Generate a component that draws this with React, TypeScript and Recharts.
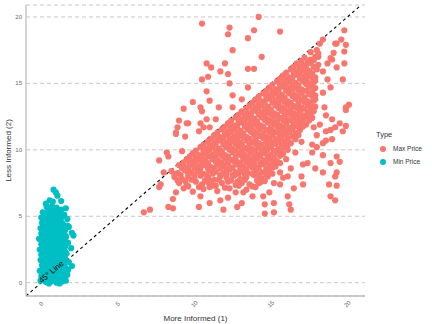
import { ScatterChart, Scatter, XAxis, YAxis, CartesianGrid, ReferenceLine, ReferenceDot } from "recharts";

const RED = "#F8766D";
const CYAN = "#00BFC4";
const FONT = "'Liberation Sans', Arial, sans-serif";

const xTicks = [0, 5, 10, 15, 20];
const yTicks = [0, 5, 10, 15, 20];
const seriesNames = ["Max Price", "Min Price"];

// Max Price: dense band under the 45° line
const maxCore: [number, number][] = [
  [9.3,7.1],[9.9,6.85],[10.6,7.05],[11.0,7.2],[11.5,6.9],[12.3,7.1],[12.7,6.8],[13.4,7.0],[14.0,7.2],
  [9.0,7.5],[9.5,7.35],[10.1,7.6],[10.5,7.4],[10.9,7.55],[11.4,7.3],[11.8,7.5],[12.2,7.6],[12.7,7.35],[13.1,7.5],[13.6,7.4],[14.3,7.55],
  [8.7,7.95],[9.2,7.8],[9.6,8.0],[10.0,7.85],[10.4,8.05],[10.9,7.9],[11.3,7.75],[11.7,8.0],[12.1,7.9],[12.6,8.05],[13.0,7.8],[13.4,7.95],[13.9,8.1],[14.4,7.85],[14.8,8.0],
  [8.5,8.4],[8.9,8.25],[9.4,8.45],[9.8,8.3],[10.2,8.4],[10.6,8.2],[11.0,8.45],[11.4,8.35],[11.9,8.25],[12.3,8.5],[12.7,8.3],[13.1,8.4],[13.5,8.25],[14.0,8.45],[14.4,8.3],[14.9,8.4],
  [9.0,8.85],[9.4,8.7],[9.8,8.9],[10.3,8.75],[10.7,8.85],[11.1,8.7],[11.5,8.95],[11.9,8.8],[12.3,8.7],[12.8,8.9],[13.2,8.75],[13.6,8.85],[14.0,8.7],[14.5,8.9],[14.9,8.8],[15.3,8.75],
  [9.5,9.3],[9.9,9.15],[10.3,9.35],[10.7,9.2],[11.2,9.3],[11.6,9.15],[12.0,9.35],[12.4,9.25],[12.8,9.1],[13.2,9.3],[13.7,9.2],[14.1,9.35],[14.5,9.2],[14.9,9.3],[15.4,9.15],
  [9.9,9.75],[10.3,9.6],[10.8,9.8],[11.2,9.65],[11.6,9.75],[12.0,9.6],[12.5,9.8],[12.9,9.7],[13.3,9.6],[13.7,9.8],[14.1,9.65],[14.6,9.75],[15.0,9.6],[15.4,9.8],[15.8,9.7],
  [10.4,10.2],[10.8,10.05],[11.2,10.25],[11.6,10.1],[12.1,10.2],[12.5,10.05],[12.9,10.25],[13.3,10.15],[13.8,10.05],[14.2,10.2],[14.6,10.1],[15.0,10.25],[15.5,10.1],[15.9,10.2],
  [10.9,10.65],[11.3,10.5],[11.7,10.7],[12.1,10.55],[12.5,10.65],[13.0,10.5],[13.4,10.7],[13.8,10.6],[14.2,10.5],[14.7,10.65],[15.1,10.55],[15.5,10.7],[15.9,10.6],[16.3,10.5],
  [11.3,11.1],[11.7,10.95],[12.2,11.15],[12.6,11.0],[13.0,11.1],[13.4,10.95],[13.9,11.15],[14.3,11.05],[14.7,10.95],[15.1,11.1],[15.6,11.0],[16.0,11.15],[16.4,11.0],[16.8,11.1],
  [11.8,11.55],[12.2,11.4],[12.6,11.6],[13.0,11.45],[13.5,11.55],[13.9,11.4],[14.3,11.6],[14.7,11.5],[15.2,11.4],[15.6,11.55],[16.0,11.45],[16.4,11.6],[16.9,11.5],
  [12.2,12.0],[12.6,11.85],[13.1,12.05],[13.5,11.9],[13.9,12.0],[14.3,11.85],[14.8,12.05],[15.2,11.95],[15.6,11.85],[16.0,12.05],[16.5,11.9],[16.9,12.0],[17.3,11.9],
  [12.7,12.45],[13.1,12.3],[13.5,12.5],[13.9,12.35],[14.4,12.45],[14.8,12.3],[15.2,12.5],[15.6,12.4],[16.1,12.3],[16.5,12.45],[16.9,12.35],[17.3,12.5],[17.7,12.4],
  [13.1,12.9],[13.5,12.75],[14.0,12.95],[14.4,12.8],[14.8,12.9],[15.2,12.75],[15.7,12.95],[16.1,12.85],[16.5,12.75],[16.9,12.95],[17.4,12.8],[17.8,12.9],
  [13.6,13.35],[14.0,13.2],[14.4,13.4],[14.8,13.25],[15.3,13.35],[15.7,13.2],[16.1,13.4],[16.5,13.3],[17.0,13.2],[17.4,13.4],[17.9,13.25],
  [14.0,13.8],[14.4,13.65],[14.9,13.85],[15.3,13.7],[15.7,13.8],[16.1,13.65],[16.6,13.85],[17.0,13.75],[17.4,13.65],[17.9,13.8],
  [14.5,14.25],[14.9,14.1],[15.3,14.3],[15.7,14.15],[16.2,14.25],[16.6,14.1],[17.0,14.3],[17.5,14.2],[17.9,14.1],
  [14.9,14.7],[15.3,14.55],[15.8,14.75],[16.2,14.6],[16.6,14.7],[17.0,14.55],[17.5,14.75],[17.9,14.65],
  [15.4,15.15],[15.8,15.0],[16.2,15.2],[16.6,15.05],[17.1,15.15],[17.5,15.0],[17.9,15.2],
  [15.8,15.6],[16.2,15.45],[16.7,15.65],[17.1,15.5],[17.5,15.6],[17.9,15.45],
  [16.3,16.05],[16.7,15.9],[17.1,16.1],[17.5,15.95],[18.0,16.05],
  [16.7,16.5],[17.1,16.35],[17.6,16.55],[18.1,16.4],
  [17.2,16.95],[17.6,16.8],[18.1,17.0],
  [17.6,17.35],[18.1,17.25],
];

// Max Price: second layer of the band, between the rows above
const maxFill: [number, number][] = [
  [9.6,7.25],[10.3,7.2],[11.2,7.3],[12.0,7.15],[12.9,7.3],[13.8,7.25],
  [8.9,7.7],[9.4,7.65],[9.8,7.75],[10.7,7.7],[11.1,7.65],[11.6,7.75],[12.4,7.7],[12.8,7.6],[13.3,7.75],[14.1,7.7],[14.6,7.65],
  [8.7,8.15],[9.1,8.1],[9.6,8.2],[10.0,8.1],[10.4,8.2],[10.8,8.1],[11.2,8.2],[11.7,8.1],[12.1,8.2],[12.5,8.1],[12.9,8.2],[13.3,8.1],[13.8,8.2],[14.2,8.1],[14.7,8.15],[15.1,8.2],
  [9.2,8.6],[9.6,8.55],[10.0,8.65],[10.4,8.6],[10.9,8.55],[11.3,8.65],[11.7,8.6],[12.1,8.55],[12.5,8.65],[13.0,8.6],[13.4,8.55],[13.8,8.65],[14.2,8.6],[14.7,8.55],[15.1,8.65],
  [9.3,9.05],[9.7,9.0],[10.1,9.1],[10.5,9.05],[10.9,9.0],[11.4,9.1],[11.8,9.0],[12.2,9.05],[12.6,9.1],[13.0,9.0],[13.4,9.1],[13.9,9.05],[14.3,9.0],[14.7,9.1],[15.1,9.05],[15.6,9.0],
  [9.7,9.5],[10.1,9.45],[10.5,9.55],[10.9,9.5],[11.4,9.45],[11.8,9.55],[12.2,9.5],[12.7,9.45],[13.1,9.55],[13.5,9.5],[13.9,9.45],[14.3,9.55],[14.8,9.5],[15.2,9.45],[15.6,9.55],
  [10.1,9.95],[10.6,9.9],[11.0,10.0],[11.4,9.95],[11.8,9.9],[12.3,10.0],[12.7,9.95],[13.1,9.9],[13.5,10.0],[14.0,9.95],[14.4,9.9],[14.8,10.0],[15.2,9.95],[15.7,9.9],[16.1,10.0],
  [10.6,10.4],[11.0,10.35],[11.4,10.45],[11.9,10.4],[12.3,10.35],[12.7,10.45],[13.1,10.4],[13.6,10.35],[14.0,10.45],[14.4,10.4],[14.8,10.35],[15.3,10.45],[15.7,10.4],[16.1,10.35],
  [11.1,10.85],[11.5,10.8],[11.9,10.9],[12.3,10.85],[12.8,10.8],[13.2,10.9],[13.6,10.85],[14.0,10.8],[14.5,10.9],[14.9,10.85],[15.3,10.8],[15.7,10.9],[16.1,10.85],[16.6,10.8],
  [11.5,11.3],[12.0,11.25],[12.4,11.35],[12.8,11.3],[13.2,11.25],[13.7,11.35],[14.1,11.3],[14.5,11.25],[14.9,11.35],[15.4,11.3],[15.8,11.25],[16.2,11.35],[16.6,11.3],
  [12.0,11.75],[12.4,11.7],[12.8,11.8],[13.3,11.75],[13.7,11.7],[14.1,11.8],[14.5,11.75],[15.0,11.7],[15.4,11.8],[15.8,11.75],[16.2,11.7],[16.7,11.8],[17.1,11.75],
  [12.4,12.2],[12.9,12.15],[13.3,12.25],[13.7,12.2],[14.1,12.15],[14.6,12.25],[15.0,12.2],[15.4,12.15],[15.8,12.25],[16.3,12.2],[16.7,12.15],[17.1,12.25],[17.5,12.2],
  [12.9,12.65],[13.3,12.6],[13.7,12.7],[14.2,12.65],[14.6,12.6],[15.0,12.7],[15.4,12.65],[15.9,12.6],[16.3,12.7],[16.7,12.65],[17.1,12.6],[17.6,12.7],
  [13.4,13.1],[13.8,13.05],[14.2,13.15],[14.6,13.1],[15.0,13.05],[15.5,13.15],[15.9,13.1],[16.3,13.05],[16.7,13.15],[17.2,13.1],[17.6,13.05],
  [13.8,13.55],[14.2,13.5],[14.6,13.6],[15.1,13.55],[15.5,13.5],[15.9,13.6],[16.3,13.55],[16.8,13.5],[17.2,13.6],[17.6,13.55],
  [14.2,14.0],[14.7,13.95],[15.1,14.05],[15.5,14.0],[15.9,13.95],[16.4,14.05],[16.8,14.0],[17.2,13.95],[17.7,14.05],
  [14.7,14.45],[15.1,14.4],[15.5,14.5],[16.0,14.45],[16.4,14.4],[16.8,14.5],[17.3,14.45],[17.7,14.4],
  [15.1,14.9],[15.6,14.85],[16.0,14.95],[16.4,14.9],[16.8,14.85],[17.3,14.95],[17.7,14.9],
  [15.6,15.35],[16.0,15.3],[16.4,15.4],[16.9,15.35],[17.3,15.3],[17.7,15.4],
  [16.0,15.8],[16.5,15.75],[16.9,15.85],[17.3,15.8],[17.7,15.75],
  [16.5,16.25],[16.9,16.2],[17.3,16.3],[17.8,16.25],
  [17.0,16.7],[17.4,16.65],[17.8,16.75],
];

// Max Price: scattered points around the band
const maxOuter: [number, number][] = [
  [14.2,20.0],[10.5,19.5],[12.3,19.2],[12.2,18.7],[13.9,19.0],[13.5,18.4],[15.6,18.9],[12.5,17.5],[14.4,17.0],
  [10.8,16.5],[11.1,16.2],[12.0,16.5],[11.7,15.9],[12.2,15.7],[13.5,16.1],[13.9,16.1],[10.5,15.3],[10.9,15.5],
  [12.3,15.0],[10.8,14.4],[13.5,14.7],[12.5,14.1],[11.0,13.7],[13.1,13.8],[9.9,13.6],[9.3,13.1],[10.4,13.2],
  [11.6,13.2],[12.5,13.2],[10.5,12.9],[9.0,12.2],[9.6,12.0],[10.8,12.3],[11.4,12.3],[8.9,11.7],[8.8,11.2],
  [9.4,11.0],[10.3,11.4],[10.6,11.7],[11.0,11.7],[9.5,12.0],[10.4,12.0],[8.8,11.3],
  [6.7,5.3],[7.1,5.5],[8.3,5.7],[8.6,5.6],[8.6,6.3],[7.7,7.2],[7.8,7.4],[7.7,9.2],[8.0,8.3],[8.2,9.8],[8.3,9.5],
  [9.2,9.9],[8.8,6.8],[10.3,5.7],[11.0,6.0],[10.4,6.5],[11.7,6.2],[12.2,6.4],[12.8,5.7],[11.9,5.5],[13.2,6.8],
  [19.8,19.0],[19.6,18.3],[19.9,17.9],[19.2,18.0],[19.8,17.4],[19.1,17.3],[19.0,16.8],[19.8,16.5],[18.7,16.5],
  [19.3,16.2],[18.4,15.9],[19.7,15.3],[18.9,14.7],[18.4,14.3],[20.1,13.4],[19.9,13.2],[18.5,13.2],[17.8,13.7],
  [18.6,12.6],[19.0,12.3],[19.9,11.8],[19.5,12.0],[19.7,11.4],[19.2,11.7],[18.6,11.4],[17.8,11.7],[19.0,10.8],
  [18.4,10.5],[18.0,10.2],[19.3,9.5],[18.4,9.6],[18.9,9.0],[17.9,8.6],[19.3,8.3],[18.4,8.3],[19.9,13.0],
  [18.2,11.9],[18.9,11.5],[18.6,10.7],[19.5,9.1],[19.2,8.0],[18.8,7.4],[19.3,7.3],[18.9,6.5],[19.2,6.2],
  [17.4,9.0],[17.1,8.9],[17.0,8.0],[17.1,7.4],[16.5,7.1],[16.1,8.0],[15.2,7.5],[14.9,6.8],[14.5,6.5],[14.6,5.9],
  [15.2,6.0],[16.1,6.5],[16.2,5.9],[16.3,5.5],[15.2,5.3],[14.6,5.2],[13.8,6.5],[13.1,6.0],[14.2,7.5],
  [15.6,7.4],[17.7,10.4],[17.7,9.8],[17.0,10.6],[18.0,11.1],[18.4,18.3],[19.3,18.0],[18.2,18.0],[18.0,17.5],
  [17.9,17.0],[18.9,16.9],[17.8,15.1],[18.7,15.3],[17.6,13.2],[17.5,12.6],[16.0,9.3],[16.3,8.6],[15.6,8.3],
  [16.6,9.8],[15.8,7.9],
];

// Min Price cluster near the origin
const minPrice: [number, number][] = [
  [-0.05,0.15],[0.3,0.05],[0.65,0.1],[1.0,0.0],[1.35,0.1],
  [0.0,0.5],[0.35,0.55],[0.7,0.45],[1.05,0.5],[1.4,0.45],
  [-0.1,0.9],[0.3,0.95],[0.6,0.85],[1.0,0.9],[1.3,0.95],
  [0.05,1.3],[0.4,1.25],[0.7,1.35],[1.05,1.3],[1.45,1.25],
  [-0.05,1.7],[0.3,1.75],[0.65,1.65],[1.0,1.7],[1.35,1.75],
  [0.0,2.1],[0.35,2.05],[0.7,2.15],[1.1,2.1],[1.4,2.05],
  [-0.1,2.5],[0.25,2.55],[0.6,2.45],[0.95,2.5],[1.3,2.55],
  [0.0,2.9],[0.35,2.85],[0.7,2.95],[1.05,2.9],[1.4,2.85],
  [-0.15,3.3],[0.3,3.35],[0.65,3.25],[1.0,3.3],[1.35,3.35],
  [0.0,3.7],[0.35,3.65],[0.7,3.75],[1.05,3.7],[1.45,3.65],
  [-0.05,4.1],[0.3,4.15],[0.65,4.05],[1.0,4.1],[1.35,4.15],
  [0.05,4.5],[0.4,4.45],[0.75,4.55],[1.1,4.5],[1.4,4.45],
  [0.0,4.9],[0.35,4.95],[0.7,4.85],[1.05,4.9],[1.35,4.95],
  [0.1,5.3],[0.45,5.35],[0.8,5.25],[1.15,5.3],
  [0.35,5.7],[0.7,5.75],[1.0,5.65],
  [0.15,0.3],[0.5,0.3],[0.85,0.25],[1.2,0.3],[1.55,0.35],
  [0.15,0.7],[0.5,0.7],[0.85,0.75],[1.2,0.7],[1.55,0.7],
  [0.15,1.1],[0.5,1.1],[0.85,1.05],[1.2,1.1],[1.6,1.1],
  [0.2,1.5],[0.5,1.5],[0.85,1.55],[1.2,1.5],[1.55,1.5],
  [0.15,1.9],[0.5,1.9],[0.85,1.9],[1.2,1.95],[1.55,1.9],
  [0.1,2.3],[0.5,2.3],[0.85,2.3],[1.2,2.3],[1.55,2.35],
  [0.15,2.7],[0.45,2.7],[0.8,2.75],[1.2,2.7],[1.55,2.7],
  [0.15,3.1],[0.5,3.1],[0.85,3.1],[1.2,3.05],[1.55,3.1],
  [0.1,3.5],[0.5,3.5],[0.85,3.5],[1.2,3.55],[1.6,3.5],
  [0.15,3.9],[0.5,3.9],[0.85,3.9],[1.2,3.9],[1.55,3.95],
  [0.15,4.3],[0.5,4.3],[0.85,4.3],[1.2,4.3],[1.55,4.25],
  [0.2,4.7],[0.55,4.7],[0.9,4.7],[1.25,4.7],
  [0.2,5.1],[0.55,5.1],[0.9,5.1],[1.25,5.1],
  [0.55,5.5],[0.9,5.5],[1.3,5.5],
  [0.8,7.0],[0.95,6.8],[1.05,6.55],[0.55,6.2],[0.75,6.1],[1.3,6.15],[0.3,5.95],[1.6,5.6],[1.5,5.1],
  [1.7,4.8],[1.8,4.2],[2.0,3.75],[2.1,3.55],[1.75,3.0],[1.95,2.6],[1.65,2.2],[1.8,1.55],[2.0,1.25],
  [1.75,0.95],[1.6,0.15],[1.7,0.6],[1.2,-0.05],[0.5,-0.05],[1.6,3.4],[1.7,4.3],
];

const toPoints = (arr: [number, number][]) => arr.map(([x, y]) => ({ x, y }));
const maxData = toPoints([...maxCore, ...maxFill, ...maxOuter]);
const minData = toPoints(minPrice);

const dot = (color: string) => (p: any) => <circle cx={p.cx} cy={p.cy} r={3.1} fill={color} />;

const XTick = (p: any) => (
  <text
    x={p.x}
    y={p.y}
    transform={`rotate(-45, ${p.x}, ${p.y})`}
    textAnchor="middle"
    dominantBaseline="central"
    fontSize={6}
    fill="#666"
    fontFamily={FONT}
  >
    {p.payload.value}
  </text>
);

const YTick = (p: any) => (
  <text x={p.x} y={p.y} textAnchor="end" dominantBaseline="central" fontSize={6} fill="#666" fontFamily={FONT}>
    {p.payload.value}
  </text>
);

const LineLabel = (p: any) => {
  const { x, y } = p.viewBox;
  return (
    <text
      x={x}
      y={y - 2}
      transform={`rotate(-41, ${x}, ${y - 2})`}
      textAnchor="middle"
      dominantBaseline="central"
      fontSize={8}
      fill="#000"
      fontFamily={FONT}
    >
      45° Line
    </text>
  );
};

export default function App() {
  return (
    <div style={{ position: "fixed", left: 0, top: 0, width: 432, height: 324, background: "#fff", fontFamily: FONT }}>
      <ScatterChart width={432} height={324} margin={{ top: 5, right: 67, bottom: 0, left: 0 }}>
        <CartesianGrid vertical={false} stroke="#c8c8c8" strokeDasharray="4 3" />
        <XAxis
          type="number"
          dataKey="x"
          domain={[-1, 21.15]}
          ticks={xTicks}
          allowDataOverflow
          height={28}
          tickLine={false}
          tickSize={0}
          tickMargin={8}
          axisLine={{ stroke: "#bdbdbd", strokeWidth: 1.3 }}
          tick={<XTick />}
          label={{ value: "More Informed (1)", position: "insideBottom", offset: 3, fontSize: 8, fill: "#333", fontFamily: FONT }}
        />
        <YAxis
          type="number"
          dataKey="y"
          domain={[-1, 20.9]}
          ticks={yTicks}
          allowDataOverflow
          width={26}
          tickLine={false}
          tickSize={0}
          tickMargin={4}
          axisLine={{ stroke: "#bdbdbd", strokeWidth: 1.3 }}
          tick={<YTick />}
          label={{ value: "Less Informed (2)", angle: -90, position: "insideLeft", offset: 8, fontSize: 8, fill: "#333", fontFamily: FONT, style: { textAnchor: "middle" } }}
        />
        <Scatter name={seriesNames[0]} data={maxData} fill={RED} shape={dot(RED)} isAnimationActive={false} />
        <Scatter name={seriesNames[1]} data={minData} fill={CYAN} shape={dot(CYAN)} isAnimationActive={false} />
        <ReferenceLine
          segment={[{ x: -1, y: -1 }, { x: 20.9, y: 20.9 }]}
          stroke="#000"
          strokeWidth={1.1}
          strokeDasharray="3 3"
          ifOverflow="hidden"
        />
        <ReferenceDot x={0.65} y={0.65} r={0} stroke="none" fill="none" label={<LineLabel />} />
      </ScatterChart>
      <div style={{ position: "absolute", left: 376, top: 130, fontFamily: FONT, color: "#333" }}>
        <div style={{ fontSize: 7.5, marginBottom: 3 }}>Type</div>
        {seriesNames.map((n, i) => (
          <div key={n} style={{ display: "flex", alignItems: "center", height: 13, fontSize: 6.5 }}>
            <span style={{ width: 6, height: 6, borderRadius: 3, background: i === 0 ? RED : CYAN, margin: "0 7px 0 4px" }} />
            {n}
          </div>
        ))}
      </div>
    </div>
  );
}
